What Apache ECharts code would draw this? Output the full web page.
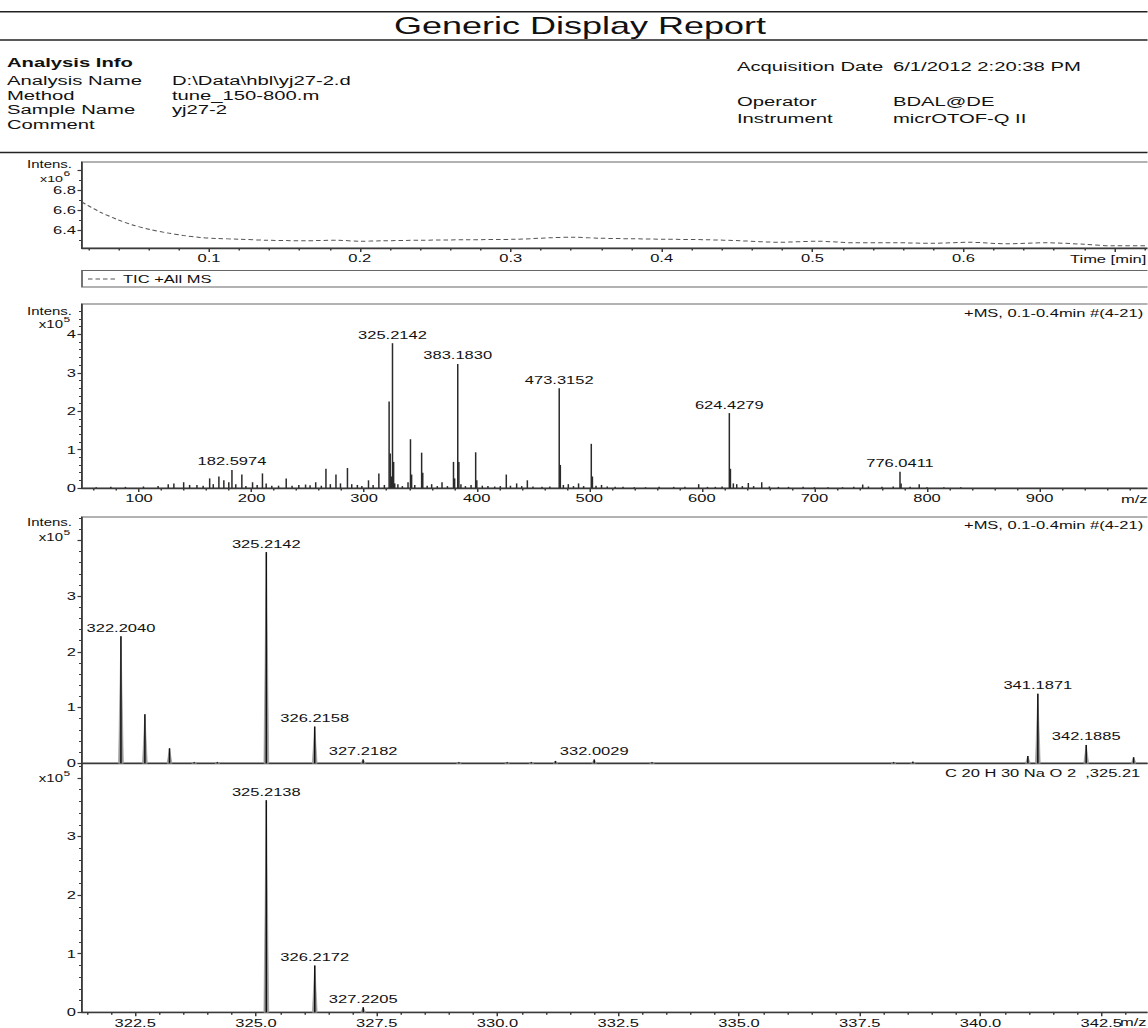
<!DOCTYPE html>
<html>
<head>
<meta charset="utf-8">
<script src="https://cdn.jsdelivr.net/npm/echarts@6/dist/echarts.min.js"></script>
<style>
html,body{margin:0;padding:0;background:#fff;overflow:hidden;}
#main{width:765.333px;height:1028px;transform:scaleX(1.5);transform-origin:0 0;}
</style>
</head>
<body>
<div id="main"></div>
<script>
// ---------------- DATA ----------------
// TIC chromatogram (time in min, intensity x10^6)
const ticTime = [0.016,0.028,0.039,0.050,0.061,0.072,0.083,0.094,0.105,0.120,0.139,0.164,0.185,0.200,0.215,0.240,0.270,0.303,0.327,0.341,0.359,0.380,0.402,0.430,0.452,0.478,0.503,0.528,0.555,0.579,0.604,0.629,0.655,0.680,0.700,0.724];
const ticInt  = [6.678,6.580,6.508,6.449,6.407,6.374,6.348,6.328,6.318,6.310,6.300,6.295,6.300,6.290,6.295,6.300,6.305,6.310,6.325,6.330,6.320,6.315,6.310,6.305,6.295,6.280,6.290,6.275,6.275,6.270,6.280,6.265,6.275,6.260,6.245,6.245];
const ticTickLabels = [0.1,0.2,0.3,0.4,0.5,0.6,0.7];
const ticYLabels = [6.4,6.6,6.8];

// Full-scan spectrum (m/z, intensity x10^5)
const ms1Mz  = [62,75,88,104,117,126,131,139.7,145,151.5,157,162.8,166,171,175.4,179.8,182.5974,186,191.4,195,200.9,205,209.7,213,218,224,230.8,236,242,248,252,257,262,266.1,270,275,279,285.2,289,294,298,303.9,308,313.1,318,322.204,323.2,324.2,325.2142,326.2158,327.2,330,334,339,341.1871,342.19,345,351.1,352.1,356,360,365,369.2,374,379.4,380.4,383.183,384.18,386,390,395,399.1,400.1,405,410,416,421,426.3,430,435.5,440,445,450,458,465,473.3152,474.3,477,481.4,486,490.5,495,501.8,502.8,506,510.9,516,523,530,540,550,562,575,585,597.2,605,612,618,624.4279,625.4,628,631,636,641.3,646,653.2,660,668,677,690,700,712,725,735,742.9,748,760,770,776.0411,777,785,793.1,800,815,830];
const ms1Int = [0.02,0.03,0.03,0.04,0.05,0.10,0.12,0.15,0.08,0.08,0.06,0.25,0.10,0.30,0.20,0.15,0.47,0.10,0.35,0.05,0.15,0.08,0.38,0.12,0.06,0.06,0.25,0.06,0.08,0.09,0.07,0.15,0.06,0.50,0.10,0.35,0.12,0.52,0.10,0.08,0.05,0.20,0.08,0.38,0.08,2.25,0.90,0.30,3.77,0.68,0.12,0.10,0.05,0.15,1.27,0.35,0.08,0.92,0.40,0.06,0.10,0.05,0.15,0.05,0.68,0.25,3.23,0.68,0.10,0.05,0.08,0.93,0.20,0.06,0.05,0.04,0.05,0.35,0.06,0.12,0.05,0.20,0.04,0.03,0.04,2.60,0.60,0.08,0.10,0.05,0.12,0.05,1.15,0.30,0.06,0.08,0.04,0.03,0.03,0.02,0.02,0.03,0.03,0.03,0.10,0.03,0.03,0.04,1.95,0.50,0.12,0.10,0.05,0.13,0.05,0.15,0.04,0.03,0.03,0.03,0.02,0.02,0.02,0.03,0.09,0.04,0.03,0.04,0.42,0.12,0.03,0.10,0.02,0.02,0.02];
const ms1Labelled = [182.5974,325.2142,383.1830,473.3152,624.4279,776.0411];
const ms1TickLabels = [100,200,300,400,500,600,700,800,900];
const ms1YLabels = [0,1,2,3,4];

// Zoomed spectrum (m/z, intensity x10^5)
const ms2Mz  = [322.204,322.70,323.21,323.72,324.20,325.2142,326.2158,327.2182,329.2,330.2,330.7,331.2,332.0029,333.2,338.2,338.6,340.98,341.1871,342.1885,343.17];
const ms2Int = [2.28,0.88,0.27,0.02,0.02,3.79,0.66,0.07,0.02,0.02,0.02,0.04,0.07,0.02,0.02,0.03,0.13,1.25,0.33,0.11];
const ms2Labelled = [322.2040,325.2142,326.2158,327.2182,332.0029,341.1871,342.1885];
const ms2YLabels = [0,1,2,3];

// Simulated isotope pattern C20H30NaO2 (m/z, intensity x10^5)
const ms3Mz  = [325.2138,326.2172,327.2205];
const ms3Int = [3.62,0.80,0.085];
const ms3Labelled = [325.2138,326.2172,327.2205];
const ms3TickLabels = [322.5,325.0,327.5,330.0,332.5,335.0,337.5,340.0,342.5];
const ms3YLabels = [0,1,2,3];

// ---------------- LAYOUT ----------------
const S = 1.5;               // horizontal stretch of the page
const W = 1148 / S;
const X = v => v / S;
const FONT = 'Liberation Sans, Arial, sans-serif';
const AX = '#3a3a3a';

function range(a, b, step, skip) {
  const out = [];
  for (let v = a; v <= b + 1e-9; v += step) {
    const r = Math.round(v * 1000) / 1000;
    if (!skip || !skip.some(s => Math.abs(s - r) < 1e-6)) out.push(r);
  }
  return out;
}

const grids = [
  {left: X(82), top: 162, width: X(1151 - 82), height: 86},
  {left: X(82), top: 304, width: X(1151 - 82), height: 184},
  {left: X(82), top: 517, width: X(1151 - 82), height: 246.3},
  {left: X(82), top: 763.3, width: X(1151 - 82), height: 249}
].map(g => Object.assign(g, {show: true, borderColor: '#666', borderWidth: 1.2, backgroundColor: 'transparent', outerBoundsMode: 'none', containLabel: false}));

const lblStyle = {fontFamily: FONT, fontSize: 11, color: '#111'};

function majorX(gi, min, max, ticks, fmt, showLabels) {
  return {
    type: 'value', gridIndex: gi, min: min, max: max, position: 'bottom',
    axisLine: {show: true, onZero: false, lineStyle: {color: AX, width: 1.4}},
    axisTick: {show: !!ticks, inside: false, length: 4, customValues: ticks || [], lineStyle: {color: AX, width: 1}},
    axisLabel: Object.assign({show: showLabels, margin: 5, customValues: ticks || [], formatter: fmt}, lblStyle),
    splitLine: {show: false}, minorTick: {show: false}
  };
}
function minorX(gi, min, max, ticks) {
  return {
    type: 'value', gridIndex: gi, min: min, max: max, position: 'bottom',
    axisLine: {show: false, onZero: false},
    axisTick: {show: true, inside: false, length: 2.5, customValues: ticks, lineStyle: {color: AX, width: 1}},
    axisLabel: {show: false}, splitLine: {show: false}
  };
}
function majorY(gi, min, max, ticks, labels, fmt) {
  return {
    type: 'value', gridIndex: gi, min: min, max: max, position: 'left',
    axisLine: {show: true, onZero: false, lineStyle: {color: AX, width: 1}},
    axisTick: {show: true, inside: false, length: 3, customValues: ticks, lineStyle: {color: AX, width: 1.2}},
    axisLabel: Object.assign({show: true, margin: 4, customValues: labels, formatter: fmt}, lblStyle),
    splitLine: {show: false}
  };
}
function minorY(gi, min, max, ticks) {
  return {
    type: 'value', gridIndex: gi, min: min, max: max, position: 'left',
    axisLine: {show: false, onZero: false},
    axisTick: {show: true, inside: false, length: 2, customValues: ticks, lineStyle: {color: AX, width: 1}},
    axisLabel: {show: false}, splitLine: {show: false}
  };
}

const T0 = 0.0159, T1 = 0.7243;
const M1a = 49.4, M1b = 999.0;
const M2a = 321.398, M2b = 343.53;

const xAxes = [
  majorX(0, T0, T1, ticTickLabels, v => Math.abs(v - 0.7) < 1e-6 ? '' : v.toFixed(1), true),
  minorX(0, T0, T1, range(0.02, 0.72, 0.02, ticTickLabels)),
  majorX(1, M1a, M1b, ms1TickLabels, v => String(Math.round(v)), true),
  minorX(1, M1a, M1b, range(60, 980, 20, ms1TickLabels)),
  majorX(2, M2a, M2b, null, v => '', false),
  majorX(3, M2a, M2b, ms3TickLabels, v => v.toFixed(1), true),
  minorX(3, M2a, M2b, range(321.5, 343.5, 0.5, ms3TickLabels))
];
const yAxes = [
  majorY(0, 6.223, 7.078, [6.4, 6.6, 6.8, 7.0], ticYLabels, v => v.toFixed(1)),
  minorY(0, 6.223, 7.078, [6.3, 6.5, 6.7, 6.9]),
  majorY(1, 0, 4.79, [0, 1, 2, 3, 4], ms1YLabels, v => String(Math.round(v))),
  minorY(1, 0, 4.79, range(0.2, 4.6, 0.2, [1, 2, 3, 4])),
  majorY(2, 0, 4.42, [0, 1, 2, 3, 4], ms2YLabels, v => String(Math.round(v))),
  minorY(2, 0, 4.42, range(0.2, 4.4, 0.2, [1, 2, 3, 4])),
  majorY(3, 0, 4.25, [0, 1, 2, 3, 4], ms3YLabels, v => String(Math.round(v))),
  minorY(3, 0, 4.25, range(0.2, 4.2, 0.2, [1, 2, 3, 4]))
];

function zip(a, b) { return a.map((v, i) => [v, b[i]]); }
function labelData(mzs, ints, wanted) {
  return wanted.map(w => {
    let best = 0;
    mzs.forEach((m, i) => { if (Math.abs(m - w) < Math.abs(mzs[best] - w)) best = i; });
    return [mzs[best], ints[best], w.toFixed(4)];
  });
}

function stickRender(color, width) {
  return function (params, api) {
    const x = api.value(0), y = api.value(1);
    const p0 = api.coord([x, 0]), p1 = api.coord([x, y]);
    return {type: 'line', shape: {x1: p0[0], y1: p0[1], x2: p1[0], y2: p1[1]},
      style: {stroke: color, lineWidth: width}};
  };
}
function profileRender(halfWidth) {
  return function (params, api) {
    const x = api.value(0), y = api.value(1);
    const a = api.coord([x - halfWidth, 0]), b = api.coord([x, y]), c = api.coord([x + halfWidth, 0]);
    return {type: 'polygon', shape: {points: [a, b, c]}, style: {fill: '#9a9a9a', stroke: '#9a9a9a', lineWidth: 0.5}};
  };
}
function labelRender(params, api) {
  const p = api.coord([api.value(0), api.value(1)]);
  return {type: 'text', x: p[0], y: p[1] - 3,
    style: {text: api.value(2), fill: '#111', font: '11px ' + FONT, align: 'center', verticalAlign: 'bottom', textAlign: 'center', textVerticalAlign: 'bottom'}};
}

const series = [
  {type: 'line', xAxisIndex: 0, yAxisIndex: 0, data: zip(ticTime, ticInt), showSymbol: false, smooth: 0.3,
    lineStyle: {color: '#555', width: 1, type: [3, 2]}, silent: true, animation: false},
  {type: 'custom', xAxisIndex: 2, yAxisIndex: 2, data: zip(ms1Mz, ms1Int), renderItem: stickRender('#2a2a2a', 1), animation: false, silent: true},
  {type: 'custom', xAxisIndex: 2, yAxisIndex: 2, data: labelData(ms1Mz, ms1Int, ms1Labelled),
    dimensions: ['x', 'y', {name: 'l', type: 'ordinal'}], renderItem: labelRender, animation: false, silent: true},
  {type: 'custom', xAxisIndex: 4, yAxisIndex: 4, data: zip(ms2Mz, ms2Int), renderItem: profileRender(0.05), animation: false, silent: true},
  {type: 'custom', xAxisIndex: 4, yAxisIndex: 4, data: zip(ms2Mz, ms2Int), renderItem: stickRender('#111', 1), animation: false, silent: true},
  {type: 'custom', xAxisIndex: 4, yAxisIndex: 4, data: labelData(ms2Mz, ms2Int, ms2Labelled),
    dimensions: ['x', 'y', {name: 'l', type: 'ordinal'}], renderItem: labelRender, animation: false, silent: true},
  {type: 'custom', xAxisIndex: 5, yAxisIndex: 6, data: zip(ms3Mz, ms3Int), renderItem: profileRender(0.05), animation: false, silent: true},
  {type: 'custom', xAxisIndex: 5, yAxisIndex: 6, data: zip(ms3Mz, ms3Int), renderItem: stickRender('#111', 1), animation: false, silent: true},
  {type: 'custom', xAxisIndex: 5, yAxisIndex: 6, data: labelData(ms3Mz, ms3Int, ms3Labelled),
    dimensions: ['x', 'y', {name: 'l', type: 'ordinal'}], renderItem: labelRender, animation: false, silent: true}
];

function txt(x, y, s, opts) {
  opts = opts || {};
  return {type: 'text', x: X(x), y: y, silent: true, z: 100,
    style: {text: s, fill: '#111', font: (opts.bold ? 'bold ' : '') + (opts.size || 13) + 'px ' + FONT,
      align: opts.align || 'left', verticalAlign: 'middle', textAlign: opts.align || 'left', textVerticalAlign: 'middle'}};
}
function hline(y, w) {
  return {type: 'line', silent: true, shape: {x1: 0, y1: y, x2: W, y2: y}, style: {stroke: '#222', lineWidth: w || 1.5}};
}
function yHead(yIntens, yX10, exp, xSize) {
  const out = [];
  if (yIntens !== null) out.push(txt(72, yIntens, 'Intens.', {size: 10, align: 'right'}));
  out.push(txt(63, yX10, 'x10', {size: xSize || 10, align: 'right'}));
  out.push(txt(63.5, yX10 - 5, exp, {size: 8, align: 'left'}));
  return out;
}

const graphic = [
  hline(11.7, 1.6), hline(40, 1.6), hline(152.5, 1.4),
  txt(580, 25.5, 'Generic Display Report', {size: 24, align: 'center'}),
  txt(7, 62, 'Analysis Info', {bold: true, size: 13.5}),
  txt(7, 80.5, 'Analysis Name', {size: 13.5}), txt(172, 80.5, 'D:\\Data\\hbl\\yj27-2.d', {size: 13.5}),
  txt(7, 95, 'Method', {size: 13.5}), txt(172, 95, 'tune_150-800.m', {size: 13.5}),
  txt(7, 109.5, 'Sample Name', {size: 13.5}), txt(172, 109.5, 'yj27-2', {size: 13.5}),
  txt(7, 124, 'Comment', {size: 13.5}),
  txt(737, 66, 'Acquisition Date', {size: 13.5}), txt(893, 66, '6/1/2012 2:20:38 PM', {size: 13.5}),
  txt(737, 101, 'Operator', {size: 13.5}), txt(893, 101, 'BDAL@DE', {size: 13.5}),
  txt(737, 118, 'Instrument', {size: 13.5}), txt(893, 118, 'micrOTOF-Q II', {size: 13.5}),
  // TIC legend box
  {type: 'rect', silent: true, shape: {x: X(82), y: 270.5, width: X(1151 - 82), height: 16.5}, style: {fill: 'none', stroke: '#666', lineWidth: 1.2}},
  {type: 'line', silent: true, shape: {x1: X(88), y1: 279, x2: X(117), y2: 279}, style: {stroke: '#555', lineWidth: 1, lineDash: [3, 2]}},
  txt(123, 279, 'TIC +All MS', {size: 11}),
  // spectrum titles
  txt(964, 313, '+MS, 0.1-0.4min #(4-21)', {size: 11}),
  txt(964, 525, '+MS, 0.1-0.4min #(4-21)', {size: 11}),
  txt(945, 773, 'C 20 H 30 Na O 2  ,325.21', {size: 11}),
  // axis units
  txt(1070, 259, 'Time [min]', {size: 11}),
  txt(1121, 499, 'm/z', {size: 11}),
  txt(1120, 1022, 'm/z', {size: 11})
].concat(yHead(164, 178.5, '6', 9.5), yHead(311, 324.5, '5'), yHead(522, 537, '5'), yHead(null, 778, '5'));

const chart = echarts.init(document.getElementById('main'), null, {renderer: 'svg'});
chart.setOption({
  animation: false,
  backgroundColor: '#fff',
  textStyle: {fontFamily: FONT},
  grid: grids,
  xAxis: xAxes,
  yAxis: yAxes,
  series: series,
  graphic: graphic
});
</script>
</body>
</html>
